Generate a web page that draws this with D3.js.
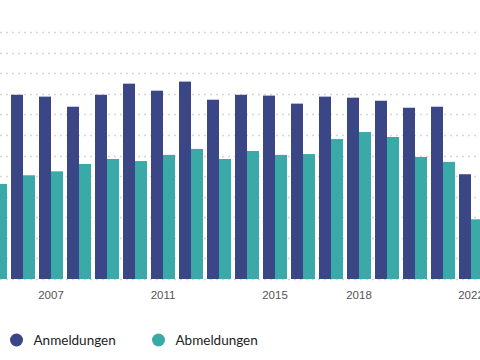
<!DOCTYPE html>
<html>
<head>
<meta charset="utf-8">
<script src="https://cdn.jsdelivr.net/npm/d3@7"></script>
<style>
  body { margin: 0; background: #fff; }
  svg { display: block; font-family: "Lato", "Noto Sans", sans-serif; }
</style>
</head>
<body>
<div id="chart"></div>
<script>
// data (units = one grid step)
var years = ["2005","2006","2007","2008","2009","2010","2011","2012","2013","2014","2015","2016","2017","2018","2019","2020","2021","2022"];
var anmeldungen = [90, 89.5, 88.6, 83.7, 89.5, 94.9, 91.5, 95.9, 87.1, 89.5, 89.1, 85.2, 88.6, 88.1, 86.6, 83.2, 83.7, 50.9];
var abmeldungen = [46.2, 50.4, 52.3, 55.9, 58.3, 57.3, 60.3, 63.2, 58.3, 62.2, 60.3, 60.7, 68.0, 71.4, 69.0, 59.3, 56.9, 29.0];
var tickYears = ["2007", "2011", "2015", "2018", "2022"];
var series = ["Anmeldungen", "Abmeldungen"];
var gridValues = d3.range(0, 121, 10);

var colors = {Anmeldungen: "#3b4687", Abmeldungen: "#3aaaa9"};

var width = 480, height = 360;
var baseY = 279, topY = 32;

var svg = d3.select("#chart").append("svg")
    .attr("width", width)
    .attr("height", height);

// chart is shown cropped, first group sits partly off the left edge
var x = d3.scaleBand()
    .domain(years)
    .range([-19, 485])
    .paddingInner(4 / 28)
    .paddingOuter(2 / 28);
var x1 = d3.scaleBand().domain(series).range([0, x.bandwidth()]);
var y = d3.scaleLinear().domain([0, 120]).range([baseY, topY]);

// dotted grid
svg.append("g").selectAll("line")
    .data(gridValues)
  .enter().append("line")
    .attr("x1", 0).attr("x2", width)
    .attr("y1", function(d) { return Math.round(y(d)) + 0.5; })
    .attr("y2", function(d) { return Math.round(y(d)) + 0.5; })
    .attr("stroke", "#d6d6d6")
    .attr("stroke-width", 1.5)
    .attr("stroke-dasharray", "2,4");

var rows = years.map(function(yr, i) {
  return {year: yr, Anmeldungen: anmeldungen[i], Abmeldungen: abmeldungen[i]};
});

var groups = svg.append("g").selectAll("g")
    .data(rows)
  .enter().append("g")
    .attr("transform", function(d) { return "translate(" + x(d.year) + ",0)"; });

groups.selectAll("rect")
    .data(function(d) { return series.map(function(s) { return {key: s, value: d[s]}; }); })
  .enter().append("rect")
    .attr("x", function(d) { return x1(d.key); })
    .attr("width", x1.bandwidth())
    .attr("y", function(d) { return y(d.value); })
    .attr("height", function(d) { return baseY - y(d.value); })
    .attr("fill", function(d) { return colors[d.key]; });

// x axis labels
var xAxis = svg.append("g")
    .attr("transform", "translate(0," + baseY + ")")
    .call(d3.axisBottom(x).tickValues(tickYears).tickSize(0).tickPadding(12));
xAxis.select(".domain").remove();
xAxis.selectAll("text")
    .attr("fill", "#555")
    .style("font-size", "11.5px");

// legend
var legend = svg.append("g").attr("transform", "translate(0,340)");
var items = legend.selectAll("g")
    .data(series)
  .enter().append("g")
    .attr("transform", function(d, i) { return "translate(" + (16.5 + i * 142) + ",0)"; });
items.append("circle")
    .attr("r", 6.5)
    .attr("fill", function(d) { return colors[d]; });
items.append("text")
    .attr("x", 17)
    .attr("dy", "0.35em")
    .attr("fill", "#222")
    .style("font-size", "13.5px")
    .text(function(d) { return d; });
</script>
</body>
</html>
